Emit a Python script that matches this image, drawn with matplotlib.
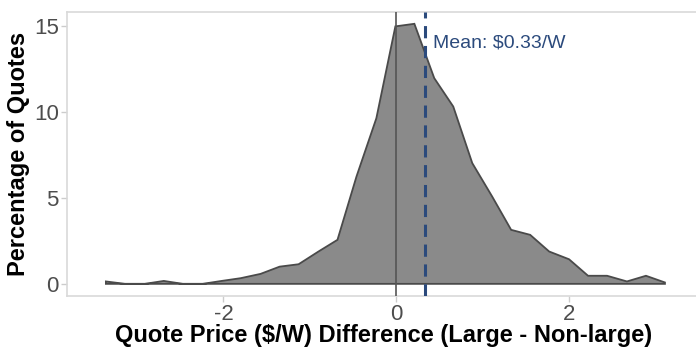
import matplotlib.pyplot as plt

plt.rcParams['font.family'] = ['Liberation Sans', 'DejaVu Sans']
plt.rcParams['axes.unicode_minus'] = False

# bin midpoints ($/W difference) and share of quotes (%)
price_diff = [-3.36, -3.14, -2.91, -2.69, -2.47, -2.24, -2.02, -1.80, -1.57, -1.35,
              -1.13, -0.90, -0.68, -0.46, -0.23, -0.01, 0.21, 0.44, 0.66, 0.88,
              1.11, 1.33, 1.55, 1.77, 2.00, 2.22, 2.44, 2.67, 2.89, 3.11]
pct_quotes = [0.14, 0.0, 0.0, 0.17, 0.0, 0.0, 0.17, 0.33, 0.58, 1.0,
              1.14, 1.88, 2.56, 6.24, 9.63, 14.97, 15.12, 11.96, 10.31, 7.02,
              5.08, 3.14, 2.85, 1.88, 1.43, 0.47, 0.47, 0.14, 0.47, 0.08]
mean_diff = 0.33
mean_label = "Mean: $0.33/W"
xticks = [-2, 0, 2]
yticks = [0, 5, 10, 15]

fig = plt.figure(figsize=(6.96, 3.51), dpi=100)
ax = fig.add_axes([0.0963, 0.157, 0.91, 0.809])

# filled frequency polygon
xs = [price_diff[0]] + price_diff + [price_diff[-1]]
ys = [0] + pct_quotes + [0]
ax.fill(xs, ys, facecolor='#8a8a8a', edgecolor='#4a4a4a', linewidth=1.3, zorder=2)

ax.axvline(0, color='#555555', linewidth=1.2, zorder=3)
ax.axvline(mean_diff, color='#2b4a7c', linewidth=2.2, linestyle=(0, (4, 2.5)), zorder=4)
ax.text(mean_diff + 0.1, 14.0, mean_label, color='#2b4a7c', fontsize=14,
        va='center', ha='left')

ax.set_xlim(-3.81, 3.52)
ax.set_ylim(-0.7, 15.81)
ax.set_xticks(xticks)
ax.set_yticks(yticks)
ax.tick_params(colors='#cccccc', labelcolor='#4d4d4d', labelsize=16, length=4, width=1, pad=2)

for side in ['left', 'top', 'bottom']:
    ax.spines[side].set_color('#d9d9d9')
    ax.spines[side].set_linewidth(1.2)
ax.spines['right'].set_visible(False)

ax.set_xlabel('Quote Price ($/W) Difference (Large - Non-large)', fontsize=17,
              fontweight='bold', labelpad=-1)
ax.set_ylabel('Percentage of Quotes', fontsize=17, fontweight='bold', labelpad=3)

fig.savefig('out.png', dpi=100)
